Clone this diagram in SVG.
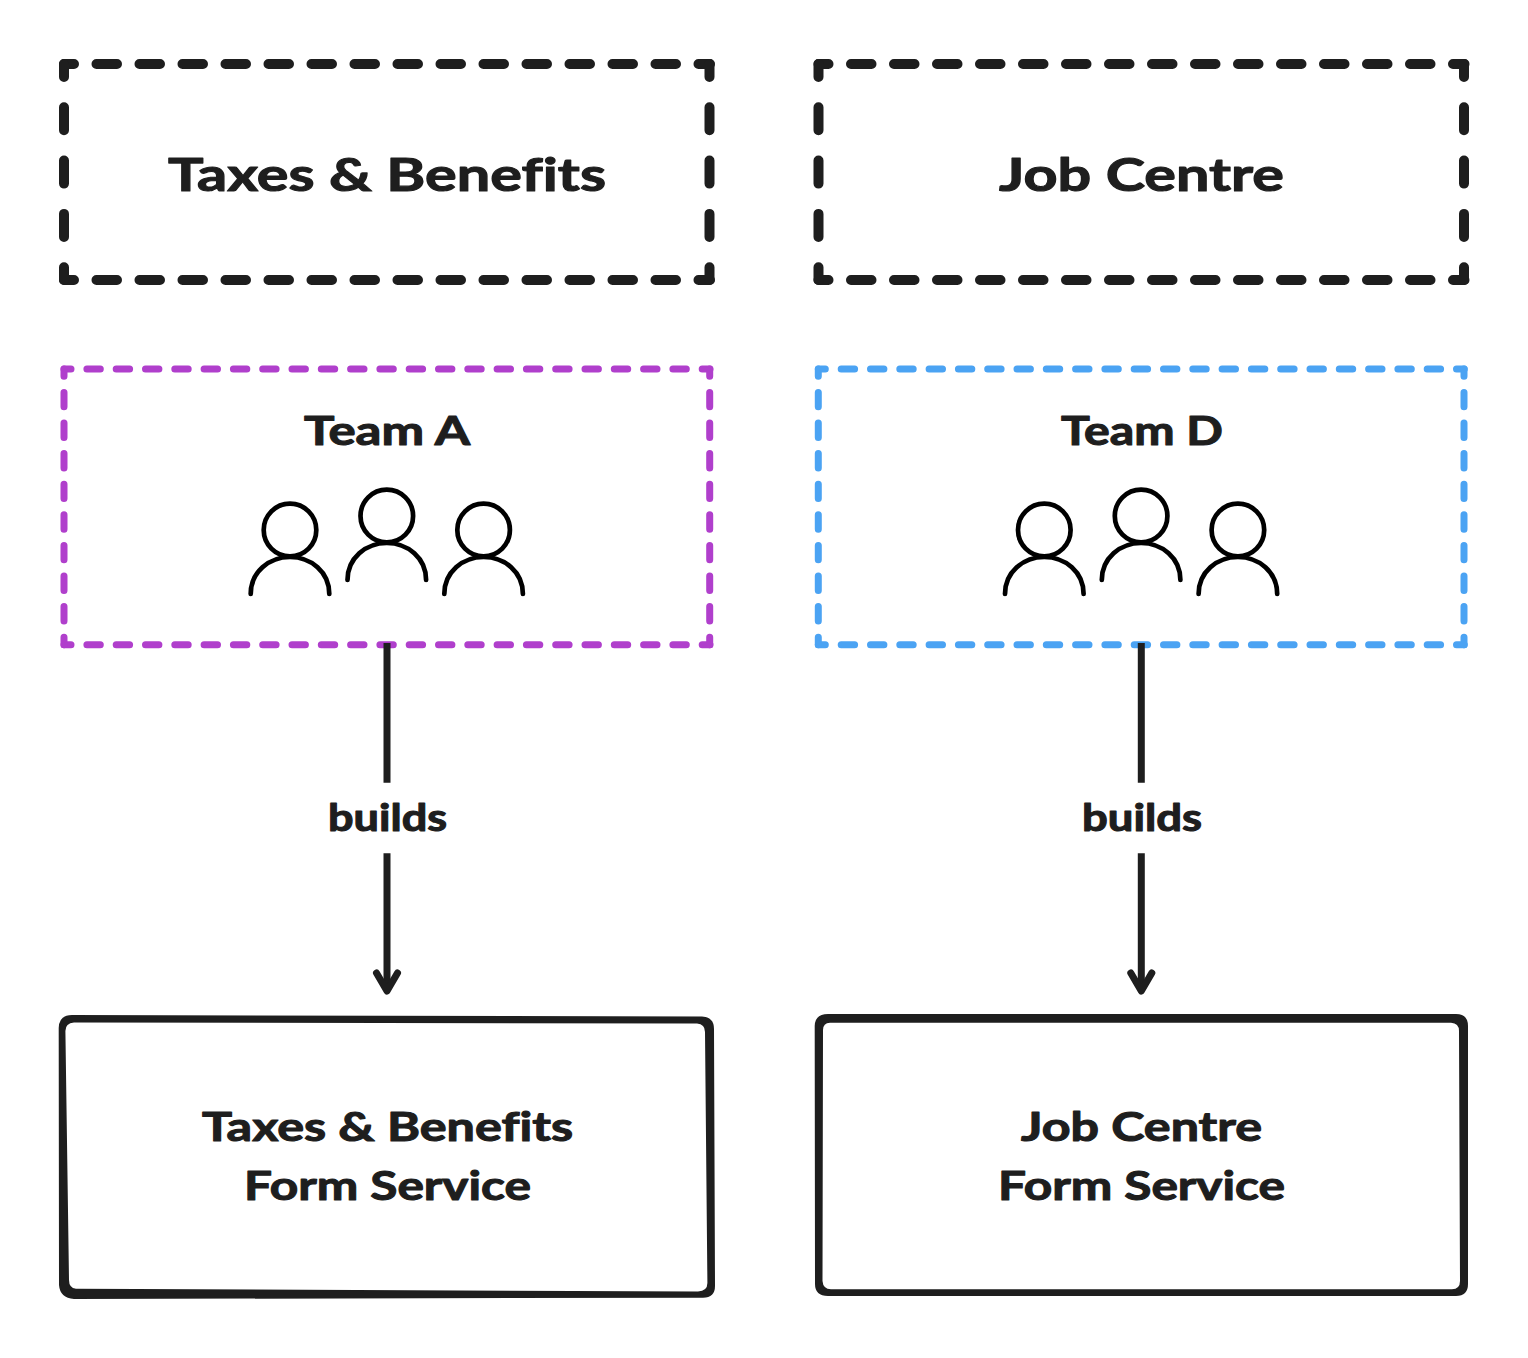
<svg xmlns="http://www.w3.org/2000/svg" width="1528" height="1358" viewBox="0 0 1528 1358">
<style>
text{font-family:"Lato","Noto Sans",sans-serif;font-weight:700;fill:#1e1e1e;stroke:#1e1e1e;stroke-width:1.1;stroke-linejoin:round;font-variant-ligatures:none}
.d{fill:none;stroke-linecap:round;stroke:#1e1e1e;stroke-width:10}
.dh{stroke-dasharray:20.5 22.5;stroke-dashoffset:10.5}
.dv{stroke-dasharray:23 30.3;stroke-dashoffset:10}
.t{fill:none;stroke-linecap:round;stroke-width:7}
.th{stroke-dasharray:13.4 15.9;stroke-dashoffset:6.4}
.tv{stroke-dasharray:14.4 16.2;stroke-dashoffset:7.2}
.purple{stroke:#b03fcc}
.blue{stroke:#4ba3f3}
.p{fill:none;stroke:#000;stroke-width:4.7;stroke-linecap:round}
.c{fill:none;stroke:#1e1e1e;stroke-width:7;stroke-linejoin:round;stroke-linecap:round}
.box{fill:#1e1e1e;fill-rule:evenodd}
.big{font-size:46px}
.mid{font-size:41px}
.sm{font-size:38px}
</style>
<defs>
<g id="person">
<circle cx="0" cy="0" r="26.3" class="p"/>
<path d="M-39.3 64C-39.3 42 -21 27 0 27S39.3 42 39.3 64" class="p"/>
</g>
</defs>
<rect width="1528" height="1358" fill="#fff"/>
<g id="group-taxes">
<path class="d dh" d="M64 64H710M64 280H710"/>
<path class="d dv" d="M64 64V280M709.5 64V280"/>
<text class="big" x="168" y="191" textLength="438" lengthAdjust="spacingAndGlyphs">Taxes &amp; Benefits</text>
</g>
<g id="group-job">
<path class="d dh" d="M818.5 64H1464.5M818.5 280H1464.5"/>
<path class="d dv" d="M818.5 64V280M1464 64V280"/>
<text class="big" x="999" y="191" textLength="285" lengthAdjust="spacingAndGlyphs">Job Centre</text>
</g>
<g id="team-a">
<path class="t th purple" d="M64 369H710M64 644.7H710"/>
<path class="t tv purple" d="M64 369V644.7M709.7 369V644.7"/>
<text class="mid" x="304" y="444.5" textLength="166" lengthAdjust="spacingAndGlyphs">Team A</text>
<use href="#person" x="290" y="530"/>
<use href="#person" x="386.8" y="516"/>
<use href="#person" x="483.6" y="530"/>
</g>
<g id="team-d">
<path class="t th blue" d="M818.3 369H1464.3M818.3 644.7H1464.3"/>
<path class="t tv blue" d="M818.3 369V644.7M1464 369V644.7"/>
<text class="mid" x="1061" y="444.5" textLength="162" lengthAdjust="spacingAndGlyphs">Team D</text>
<use href="#person" x="1044.3" y="530"/>
<use href="#person" x="1141.1" y="516"/>
<use href="#person" x="1237.9" y="530"/>
</g>
<g id="connectors">
<path class="c" style="stroke-linecap:butt" d="M387 643V782.7M387 853.3V988M1141.3 643V782.7M1141.3 853.3V988"/>
<path class="c" d="M376.5 973L387 991L397.5 973M1130.8 973L1141.3 991L1151.8 973"/>
<text class="sm" x="328" y="830.5" textLength="119" lengthAdjust="spacingAndGlyphs">builds</text>
<text class="sm" x="1082" y="830.5" textLength="120" lengthAdjust="spacingAndGlyphs">builds</text>
</g>
<g id="service-taxes">
<path class="box" d="M72 1015L702 1016.5Q714 1017 714 1029L715 1286Q715 1297.7 703 1297.7L74 1299Q60 1298 59 1285L58.7 1028Q59 1015 72 1015ZM74 1022.5Q65.4 1023 65.4 1031L69 1280Q69 1288 76 1288.7L698 1291.5Q707.4 1291 707.4 1283L705 1032Q705 1024 697 1023.5Z"/>
<text class="mid" x="202" y="1141" textLength="371" lengthAdjust="spacingAndGlyphs">Taxes &amp; Benefits</text>
<text class="mid" x="244" y="1199.5" textLength="287" lengthAdjust="spacingAndGlyphs">Form Service</text>
</g>
<g id="service-job">
<path class="box" d="M828 1014L1456 1014Q1468 1014 1468 1026L1468 1284Q1468 1296 1456 1296L828 1296Q815 1296 815 1284L814.7 1026Q815 1014 828 1014ZM830 1022.7Q823 1023 823 1030L822.5 1281Q823 1289 831 1289.3L1452 1289.3Q1460 1289 1460 1281L1459 1031Q1459 1023 1451 1022.7Z"/>
<text class="mid" x="1021" y="1141" textLength="241" lengthAdjust="spacingAndGlyphs">Job Centre</text>
<text class="mid" x="998" y="1199.5" textLength="287" lengthAdjust="spacingAndGlyphs">Form Service</text>
</g>
</svg>
